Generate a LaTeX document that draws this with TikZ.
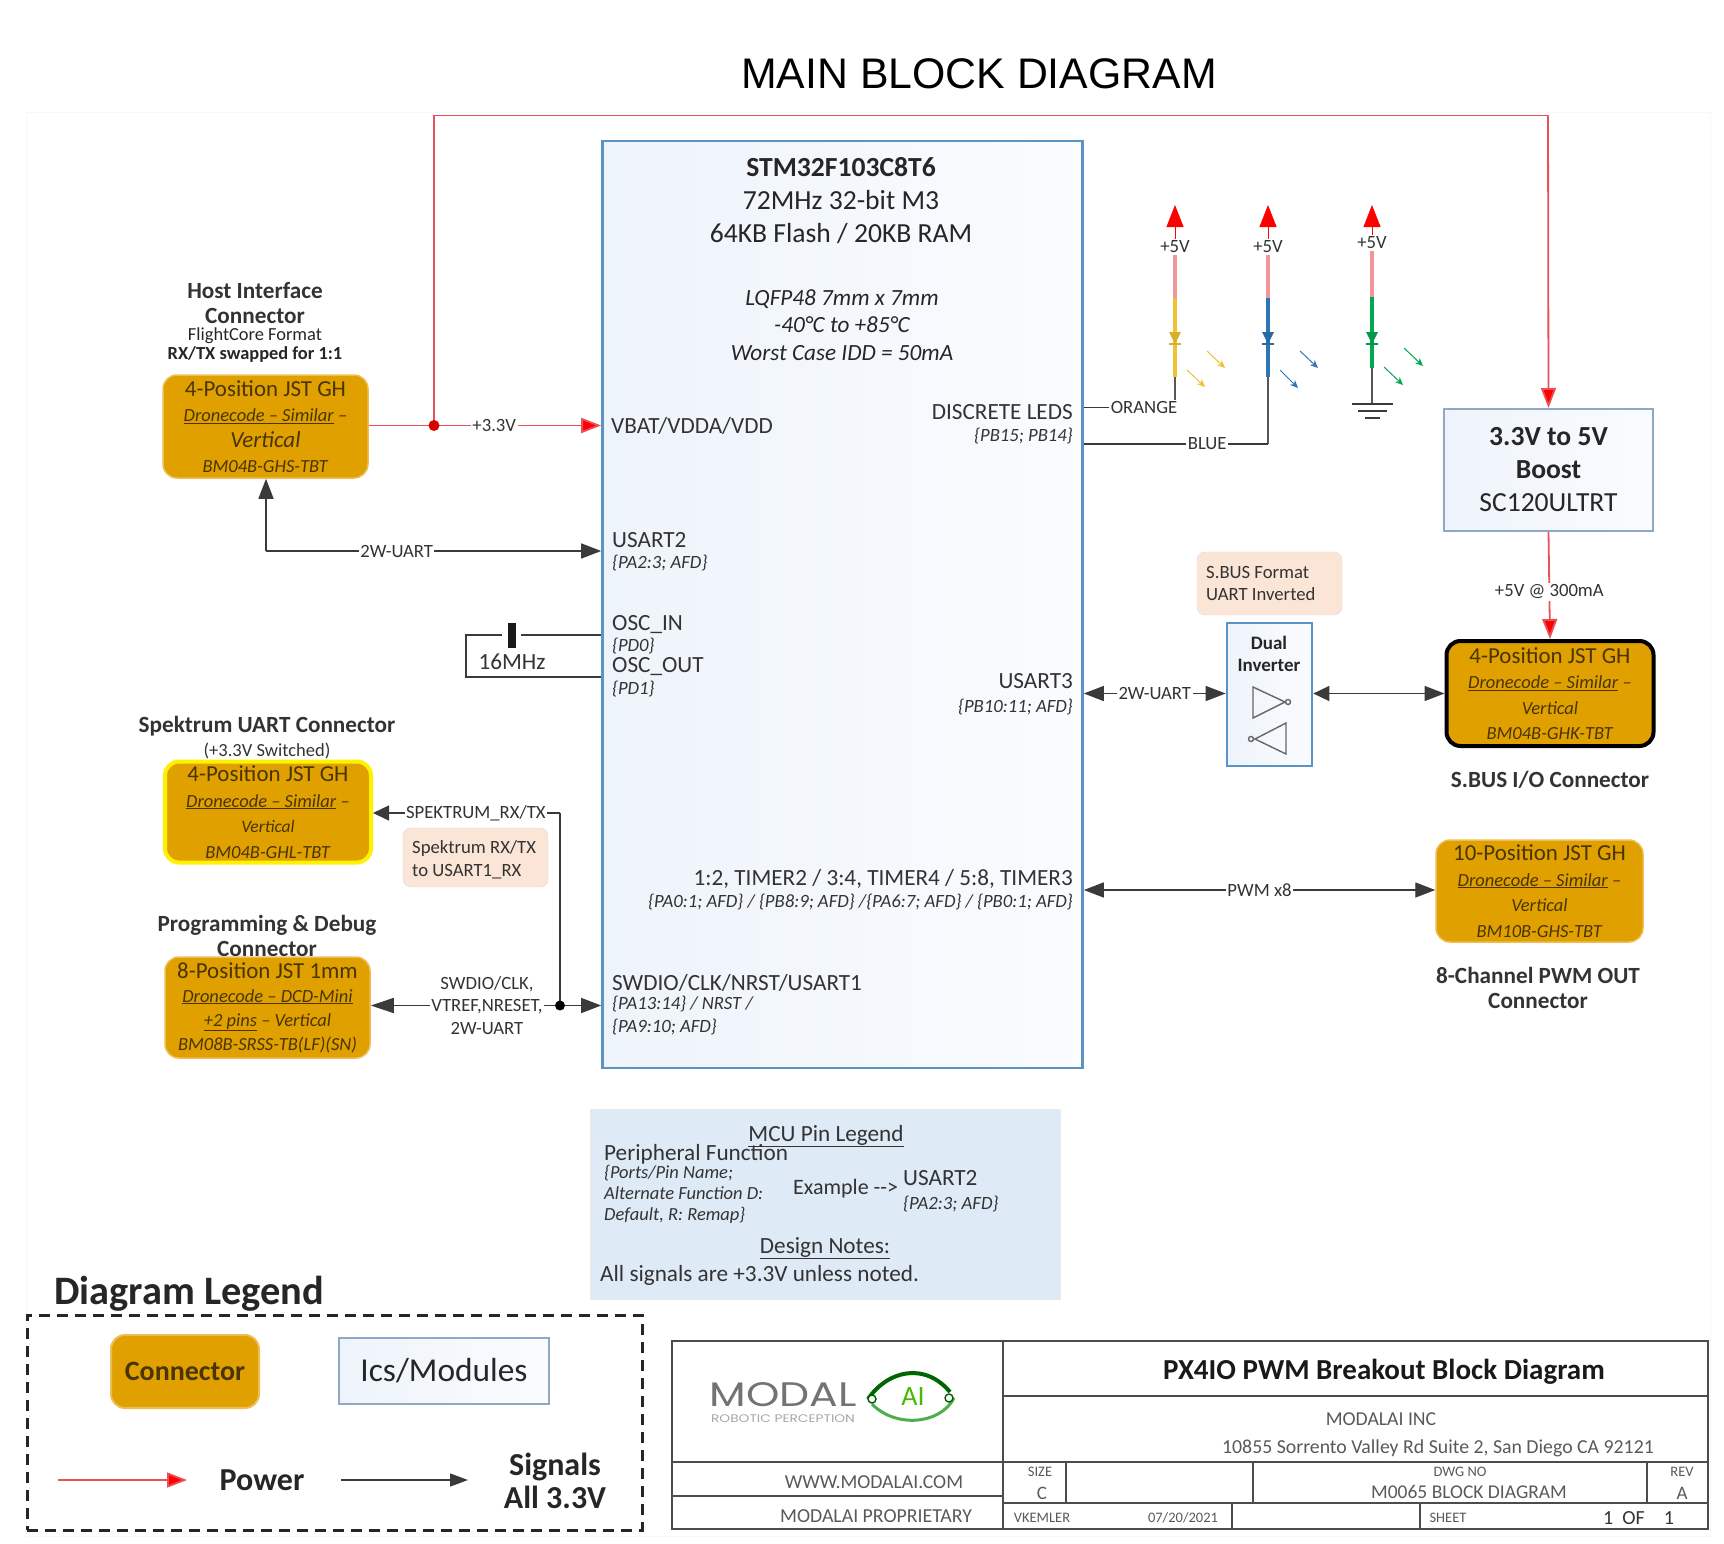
\documentclass[tikz,border=0pt]{standalone}
\usepackage{fontspec}
\setmainfont{Carlito}
\newfontfamily\titlefont{Liberation Sans}
\newfontfamily\logofont[FakeStretch=1.25]{Poppins}
\usetikzlibrary{arrows.meta}
\definecolor{connfill}{HTML}{DFA000}
\definecolor{connedge}{HTML}{EDBE55}
\definecolor{connink}{HTML}{4A3500}
\definecolor{mcuedge}{HTML}{5B93C4}
\definecolor{boxedge}{HTML}{8EA9C1}
\definecolor{mcutint}{HTML}{EEF4FB}
\definecolor{notefill}{HTML}{FBE5D6}
\definecolor{pinfill}{HTML}{DEEAF6}
\definecolor{wire}{HTML}{3A3A3A}
\definecolor{pwr}{HTML}{E8505A}
\definecolor{ledorange}{HTML}{F0C232}
\definecolor{ledblue}{HTML}{2E75B6}
\definecolor{ledgreen}{HTML}{00A850}
\newcommand{\fsize}[2]{\fontsize{#1}{#2}\selectfont}
\tikzset{
  conn/.style={draw=connedge,fill=connfill,rounded corners=14,line width=1.5,align=center,inner sep=0,text=connink,font=\fsize{18.5}{25.5}},
  mod/.style={draw=#1,left color=mcutint,right color=mcutint!30,line width=2.6,align=center,inner sep=0},
  mod/.default=mcuedge,
  note/.style={fill=notefill,draw=notefill!85!gray,rounded corners=8,inner sep=0},
  txt/.style={inner sep=0,font=\fsize{23.2}{26},text=black!80},
  pin/.style={inner sep=0,font=\fsize{18.7}{21}\itshape,text=black!80},
  head/.style={inner sep=0,align=center,font=\fsize{23.2}{25}\bfseries,text=black!80},
  tiny/.style={inner sep=0,font=\fsize{14.5}{16},text=black!65},
  wlabel/.style={fill=white,inner sep=1.5,font=\fsize{18.7}{21},text=black!80},
  sig/.style={draw=wire,line width=1.4},
  big/.style={-{Triangle[length=20,width=15]}},
  both/.style={{Triangle[length=20,width=15]}-{Triangle[length=20,width=15]}},
  power/.style={draw=pwr,line width=1.8,-{Triangle[length=20,width=15,fill=red]}},
  frame/.style={draw=black!70,line width=1.6},
  light/.style={line width=1,-{Stealth[length=8,width=7]}},
}
\begin{document}
\begin{tikzpicture}[x=1pt,y=-1pt]
\useasboundingbox (0,0) rectangle (1724,1544);
\draw[black!3,line width=1] (26,113) rectangle (1710,1536);
\node[inner sep=0,font=\fsize{42.8}{50}\titlefont] (title) at (979,74) {MAIN BLOCK DIAGRAM};

% MCU
\node[mod,minimum width=480,minimum height=927] (mcu) at (842.5,604.5) {};
\node[inner sep=0,align=center,font=\fsize{27.6}{33},text=black!85] (mcuname) at (841,201) {\textbf{STM32F103C8T6}\\72MHz 32-bit M3\\64KB Flash / 20KB RAM};
\node[inner sep=0,align=center,font=\fsize{23.2}{27.5}\itshape,text=black!85] (mcuspec) at (842,325) {LQFP48 7mm x 7mm\\-40°C to +85°C\\Worst Case IDD = 50mA};
\node[txt,anchor=west] (vbat) at (611,425.5) {VBAT/VDDA/VDD};
\node[txt,anchor=west] (usarttwo) at (612,540.5) {USART2};
\node[pin,anchor=west] (usarttwopin) at (612,563.5) {\{PA2:3; AFD\}};
\node[txt,anchor=west] (oscin) at (612,625) {OSC\_IN};
\node[pin,anchor=west] (oscinpin) at (612,646) {\{PD0\}};
\node[txt,anchor=west] (oscout) at (612,667) {OSC\_OUT};
\node[pin,anchor=west] (oscoutpin) at (612,689) {\{PD1\}};
\node[txt,anchor=west] (swd) at (612,982.5) {SWDIO/CLK/NRST/USART1};
\node[pin,anchor=west] (swdpin) at (612,1004.5) {\{PA13:14\} / NRST /};
\node[pin,anchor=west] (swdpintwo) at (612,1027) {\{PA9:10; AFD\}};
\node[txt,anchor=east] (leds) at (1073,412.5) {DISCRETE LEDS};
\node[pin,anchor=east] (ledspin) at (1073,436) {\{PB15; PB14\}};
\node[txt,anchor=east] (usartthree) at (1073,681) {USART3};
\node[pin,anchor=east] (usartthreepin) at (1073,707) {\{PB10:11; AFD\}};
\node[txt,anchor=east] (timers) at (1073,879) {1:2, TIMER2 / 3:4, TIMER4 / 5:8, TIMER3};
\node[pin,anchor=east] (timerspin) at (1073,902) {\{PA0:1; AFD\} / \{PB8:9; AFD\} /\{PA6:7; AFD\} / \{PB0:1; AFD\}};

% left connectors
\node[head] (hostname) at (255,303) {Host Interface\\Connector};
\node[inner sep=0,align=center,font=\fsize{18.4}{19},text=black!85] (hostfmt) at (255,345) {FlightCore Format\\\textbf{RX/TX swapped for 1:1}};
\node[conn,minimum width=205,minimum height=103] (host) at (265.5,426.5) {{\fsize{22.9}{25.5}4-Position JST GH}\\\underline{\textit{Dronecode -- Similar}}\textit{ --}\\{\fsize{23}{25.5}\itshape Vertical}\\\textit{BM04B-GHS-TBT}};
\node[head] (spekname) at (267,726) {Spektrum UART Connector};
\node[inner sep=0,font=\fsize{18.5}{19},text=black!80] (speksw) at (267,751) {(+3.3V Switched)};
\node[conn,draw=yellow,line width=4,minimum width=206,minimum height=101] (spek) at (268,812) {{\fsize{22.9}{25.5}4-Position JST GH}\\\underline{\textit{Dronecode -- Similar}}\textit{ --}\\{\fsize{17.5}{25.5}\itshape Vertical}\\\textit{BM04B-GHL-TBT}};
\node[head] (progname) at (267,936) {Programming \& Debug\\Connector};
\node[conn,font=\fsize{18.5}{24},minimum width=205,minimum height=101] (prog) at (267.5,1007.5) {{\fsize{22.9}{24}8-Position JST 1mm}\\\underline{\textit{Dronecode -- DCD-Mini}}\\\underline{\textit{+2 pins}}\textit{ -- Vertical}\\\textit{BM08B-SRSS-TB(LF)(SN)}};
\node[note,minimum width=145,minimum height=59] (speknote) at (475.5,857.5) {};
\node[inner sep=0,align=left,anchor=west,font=\fsize{18.7}{23},text=black!80] (speknotetxt) at (412,859.5) {Spektrum RX/TX\\to USART1\_RX};

% right side
\node[mod=boxedge,line width=2,minimum width=209,minimum height=122,font=\fsize{27.6}{33},text=black!85] (boost) at (1548.5,470) {\textbf{3.3V to 5V}\\\textbf{Boost}\\SC120ULTRT};
\node[conn,draw=black,line width=4,minimum width=207,minimum height=105] (sbus) at (1550,693.5) {{\fsize{22.9}{25.5}4-Position JST GH}\\\underline{\textit{Dronecode -- Similar}}\textit{ --}\\{\fsize{18.5}{25.5}\itshape Vertical}\\\textit{BM04B-GHK-TBT}};
\node[head] (sbusname) at (1550,780) {S.BUS I/O Connector};
\node[mod,minimum width=85,minimum height=143] (inv) at (1269.5,694.5) {};
\node[inner sep=0,align=center,font=\fsize{19}{22}\bfseries,text=black!85] (invname) at (1269,654) {Dual\\Inverter};
\node[note,minimum width=145,minimum height=63] (sbusnote) at (1269.5,583.5) {};
\node[inner sep=0,align=left,anchor=west,font=\fsize{18.7}{22},text=black!80] (sbusnotetxt) at (1206,583.5) {S.BUS Format\\UART Inverted};
\node[conn,minimum width=207,minimum height=102] (pwmc) at (1539.5,891) {{\fsize{22.9}{25.5}10-Position JST GH}\\\underline{\textit{Dronecode -- Similar}}\textit{ --}\\\textit{Vertical}\\\textit{BM10B-GHS-TBT}};
\node[head] (pwmname) at (1538,987.5) {8-Channel PWM OUT\\Connector};

% inverter symbols
\draw[black!60,line width=1.4] (1253,687) -- (1253,718) -- (1285,702) -- cycle;
\draw[black!60,line width=1.4] (1288,702) circle (2.5);
\draw[black!60,line width=1.4] (1286,723) -- (1286,754) -- (1255,739) -- cycle;
\draw[black!60,line width=1.4] (1251,739) circle (2.5);

% power
\coordinate (junc) at (434,425.5);
\coordinate (railL) at (434,115.5);
\coordinate (railR) at (1548,115.5);
\draw[power] (host.east |- junc) -- node[wlabel,pos=.54] (vlabel) {+3.3V} (mcu.west |- junc);
\draw[draw=pwr,line width=1.8] (junc) -- (railL) -- (railR);
\draw[power] (railR) -- (boost.north);
\fill[red!85!black] (junc) circle (5.5);
\draw[power] (boost.south) -- node[wlabel,pos=.56] (vfive) {+5V @ 300mA} (sbus.north);

% signals
\coordinate (hostdown) at (266,551);
\draw[sig,big] (hostdown) -- (host.south -| hostdown);
\draw[sig,big] (hostdown) -- node[wlabel,pos=.39] (uartlabel) {2W-UART} (mcu.west |- hostdown);
\coordinate (oscA) at (502,635);
\coordinate (oscB) at (521,635);
\coordinate (oscC) at (466,635);
\coordinate (oscD) at (466,677);
\draw[sig] (mcu.west |- oscB) -- (oscB);
\draw[sig] (oscA) -- (oscC) -- (oscD) -- (mcu.west |- oscD);
\fill[black!90] (507.5,623) rectangle (515.5,648);
\node[txt] (xtal) at (512,662) {16MHz};
\coordinate (spekturn) at (560,813);
\coordinate (swdjunc) at (560,1005.5);
\draw[sig] (swdjunc) -- (spekturn);
\draw[sig,-{Triangle[length=16,width=15]}] (spekturn) -- node[wlabel,pos=.45] (speklabel) {SPEKTRUM\_RX/TX} (spek.east |- spekturn);
\draw[sig,big] (swdjunc) -- (mcu.west |- swdjunc);
\draw[sig,-{Triangle[length=23,width=15]}] (swdjunc) -- (prog.east |- swdjunc);
\fill[black] (swdjunc) circle (5);
\node[wlabel,align=center,font=\fsize{18.7}{22.5},inner sep=1] (swdlabel) at (487,1005.5) {SWDIO/CLK,\\VTREF,NRESET,\\2W-UART};
\coordinate (uartthree) at (1083,693.5);
\draw[sig,both] (mcu.east |- uartthree) -- node[wlabel,pos=.5] (invlabel) {2W-UART} (inv.west |- uartthree);
\draw[sig,{Triangle[length=16,width=15]}-{Triangle[length=20,width=15]}] (inv.east |- uartthree) -- (sbus.west |- uartthree);
\coordinate (pwmline) at (1083,890);
\draw[sig,both] (mcu.east |- pwmline) -- node[wlabel,pos=.5] (pwmlabel) {PWM x8} (pwmc.west |- pwmline);

% leds
\node[wlabel,fill=none] (vo) at (1175,247) {+5V};
\node[wlabel,fill=none] (vb) at (1268,247) {+5V};
\node[wlabel,fill=none] (vg) at (1372,243) {+5V};
\foreach \name/\col/\xx/\ya/\yb/\yc in {vo/ledorange/1175/298/377/407.5,vb/ledblue/1268/298/377/444,vg/ledgreen/1372/297/368/404}{
  \draw[-{Triangle[length=22,width=17]},red,line width=1] (\name.north) -- (\xx,205);
  \draw[pwr!60,line width=3.5] (\name.south) -- (\xx,\ya);
  \draw[\col,line width=3.5] (\xx,\ya) -- (\xx,\yb);
  \fill[\col!90!black] (\xx-6,332) -- (\xx+6,332) -- (\xx,344) -- cycle;
  \draw[\col!90!black,line width=1.6] (\xx-6,344) -- (\xx+6,344);
  \draw[wire!85,line width=2.4] (\xx,\yb) -- (\xx,\yc);
}
\coordinate (ledorangept) at (1175,407.5);
\draw[sig] (mcu.east |- ledorangept) -- node[wlabel,pos=.66] (orangelabel) {ORANGE} (ledorangept);
\coordinate (ledbluept) at (1268,444);
\draw[sig] (mcu.east |- ledbluept) -- node[wlabel,pos=.67] (bluelabel) {BLUE} (ledbluept);
\draw[light,ledorange] (1187,370) -- (1205,387);
\draw[light,ledorange] (1207,351) -- (1225,368);
\draw[light,ledblue] (1280,370) -- (1298,388);
\draw[light,ledblue] (1300,351) -- (1318,368);
\draw[light,ledgreen] (1384,367) -- (1403,385);
\draw[light,ledgreen] (1404,348) -- (1423,366);
\draw[wire,line width=1.6] (1352,404) -- (1393,404);
\draw[wire,line width=1.6] (1358,411) -- (1387,411);
\draw[wire,line width=1.6] (1365,418) -- (1380,418);

% pin legend
\node[fill=pinfill,draw=black!8,minimum width=470,minimum height=190] (pinbox) at (825,1204) {};
\node[txt] (pinhead) at (826,1136) {\underline{MCU Pin Legend}};
\node[txt,anchor=west] (pinperiph) at (604,1154) {Peripheral Function};
\node[inner sep=0,anchor=north west,align=left,font=\fsize{18.5}{21}\itshape,text=black!80] (pinports) at (604,1165) {\{Ports/Pin Name;\\Alternate Function D:\\Default, R: Remap\}};
\node[txt,font=\fsize{22}{26},anchor=west] (pinex) at (793,1189) {Example {-}{-}>};
\node[txt,anchor=west] (pinusart) at (903,1178) {USART2};
\node[pin,anchor=west] (pinafd) at (903,1204) {\{PA2:3; AFD\}};
\node[txt] (designhead) at (825,1248) {\underline{Design Notes:}};
\node[txt,anchor=west] (allsig) at (600,1275) {All signals are +3.3V unless noted.};

% diagram legend
\node[inner sep=0,anchor=west,font=\fsize{40.4}{44}\bfseries,text=black!85] (leghead) at (54,1294) {Diagram Legend};
\node[draw=black!85,dashed,line width=3,dash pattern=on 11pt off 7pt,minimum width=615,minimum height=215] (legbox) at (334.5,1422.5) {};
\node[conn,font=\fsize{28}{30}\bfseries,minimum width=148,minimum height=73,line width=2] (legconn) at (185,1371.5) {Connector};
\node[mod=boxedge,line width=2,font=\fsize{33.4}{36},text=black!85,minimum width=210,minimum height=66] (legmod) at (444,1371) {Ics/Modules};
\coordinate (legA) at (58,1480);
\coordinate (legB) at (187,1480);
\coordinate (legC) at (341,1480);
\coordinate (legD) at (468,1480);
\draw[power] (legA) -- (legB);
\draw[sig,-{Triangle[length=18,width=13]}] (legC) -- (legD);
\node[inner sep=0,font=\fsize{32}{34}\bfseries,text=black!85] (legpower) at (262,1480) {Power};
\node[inner sep=0,align=center,font=\fsize{32}{33}\bfseries,text=black!85] (legsig) at (555,1481) {Signals\\All 3.3V};

% title block
\node[frame,minimum width=1036,minimum height=188,inner sep=0] (block) at (1190,1435) {};
\coordinate (bA) at (1003,1341);
\coordinate (bB) at (1003,1462);
\coordinate (bC) at (1003,1529);
\draw[frame] (bA) -- (bC);
\draw[frame] (bA |- 0,1396) -- (block.east |- 0,1396);
\draw[frame] (block.west |- 0,1462) -- (block.east |- 0,1462);
\draw[frame] (block.west |- 0,1496) -- (bC |- 0,1496);
\draw[frame] (bC |- 0,1503) -- (block.east |- 0,1503);
\draw[frame] (1066,1462) -- (1066,1503);
\draw[frame] (1253,1462) -- (1253,1503);
\draw[frame] (1647,1462) -- (1647,1503);
\draw[frame] (1232,1503) -- (1232,1529);
\draw[frame] (1420,1503) -- (1420,1529);
\node[inner sep=0,font=\fsize{29}{34}\bfseries,text=black!90] (bktitle) at (1384,1372) {PX4IO PWM Breakout Block Diagram};
\node[tiny,font=\fsize{19.7}{21}] (bkinc) at (1381,1419) {MODALAI INC};
\node[tiny,font=\fsize{19.8}{21}] (bkaddr) at (1438,1448) {10855 Sorrento Valley Rd Suite 2, San Diego CA 92121};
\node[tiny,font=\fsize{19.7}{21}] (bkweb) at (874,1482) {WWW.MODALAI.COM};
\node[tiny,font=\fsize{19.8}{21}] (bkprop) at (876,1516) {MODALAI PROPRIETARY};
\node[tiny] (bksize) at (1040,1472) {SIZE};
\node[tiny,font=\fsize{19}{21}] (bkc) at (1042,1493) {C};
\node[tiny] (bkdwg) at (1460,1472) {DWG NO};
\node[tiny,font=\fsize{19.5}{21}] (bkno) at (1469,1492) {M0065 BLOCK DIAGRAM};
\node[tiny] (bkrev) at (1682,1472) {REV};
\node[tiny,font=\fsize{19}{21}] (bka) at (1682,1493) {A};
\node[tiny] (bkauth) at (1042,1518) {VKEMLER};
\node[tiny] (bkdate) at (1183,1518) {07/20/2021};
\node[tiny] (bksheet) at (1448,1518) {SHEET};
\node[tiny,font=\fsize{20}{21},text=black!80] (bkof) at (1624,1518) {1\ \ OF};
\node[tiny,font=\fsize{20}{21},text=black!80] (bkone) at (1669,1518) {1};

% logo
\node[inner sep=0,font=\fsize{34}{36}\logofont,text=black!55] (logotext) at (783,1395) {MODAL};
\node[inner sep=0,font=\fsize{11}{12}\logofont,text=black!35] (logosub) at (783,1419) {ROBOTIC PERCEPTION};
\node[inner sep=0,font=\fsize{28}{30},text=green!45!olive] (logoai) at (913,1397) {AI};
\draw[green!40!black,line width=4] (868,1399) .. controls (888,1370) and (925,1362) .. (950,1392);
\draw[green!55!black!70,line width=3] (954,1398) .. controls (940,1425) and (895,1428) .. (872,1404);
\draw[green!35!black,line width=1.4,fill=white] (872,1399) circle (4) (949,1398) circle (4);
\end{tikzpicture}
\end{document}
